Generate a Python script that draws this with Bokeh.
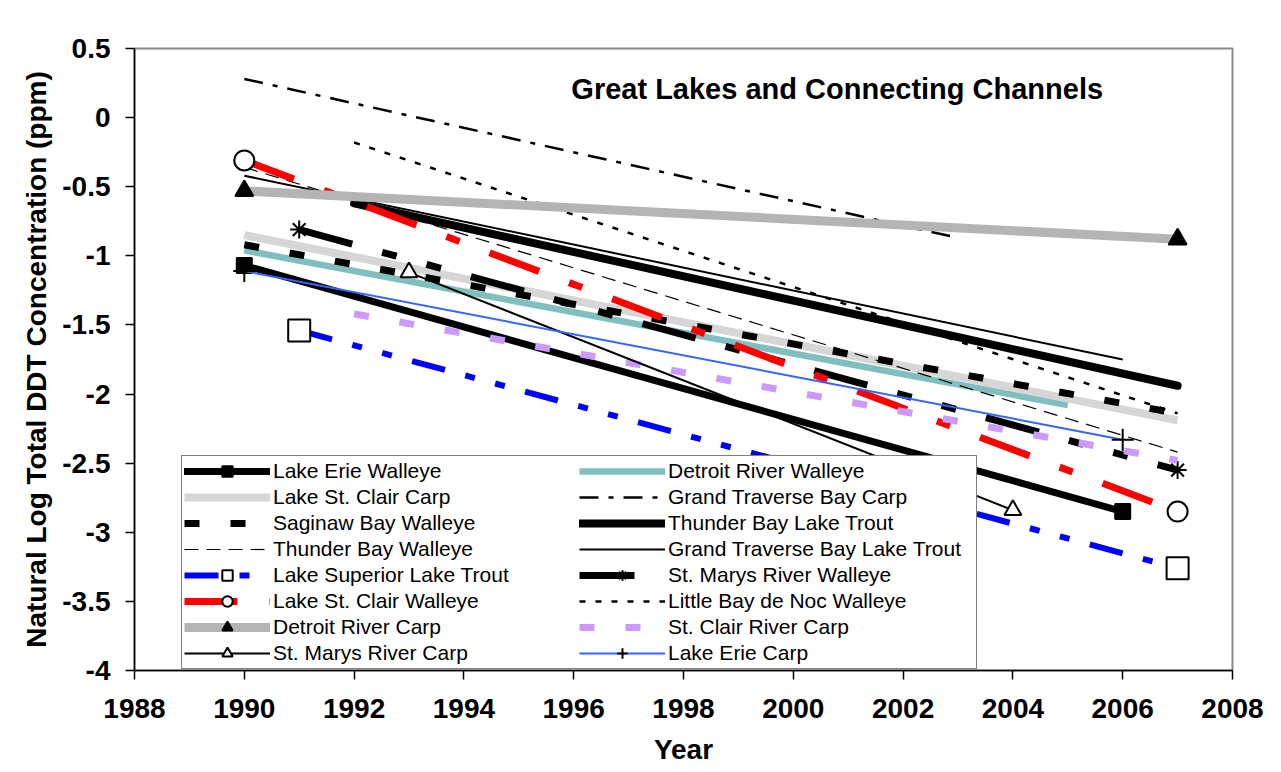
from bokeh.plotting import figure
from bokeh.models import (Legend, LegendItem, FixedTicker, CustomJSTickFormatter,
                          Range1d, Label)
from bokeh.embed import file_html
from bokeh.resources import INLINE

# ---------------- data ----------------
series = [
    "Lake Erie Walleye", "Detroit River Walleye", "Lake St. Clair Carp",
    "Grand Traverse Bay Carp", "Saginaw Bay Walleye", "Thunder Bay Lake Trout",
    "Thunder Bay Walleye", "Grand Traverse Bay Lake Trout", "Lake Superior Lake Trout",
    "St. Marys River Walleye", "Lake St. Clair Walleye", "Little Bay de Noc Walleye",
    "Detroit River Carp", "St. Clair River Carp", "St. Marys River Carp", "Lake Erie Carp",
]
start_year = [1990, 1990, 1990, 1990, 1990, 1992, 1990, 1990, 1991, 1991, 1990, 1992, 1990, 1992, 1993, 1990]
end_year   = [2006, 2005, 2007, 2003, 2007, 2007, 2007, 2006, 2007, 2007, 2007, 2007, 2007, 2007, 2004, 2006]
start_val  = [-1.07, -0.96, -0.85, 0.28, -0.92, -0.62, -0.36, -0.42, -1.54, -0.81, -0.31, -0.18, -0.53, -1.42, -1.12, -1.11]
end_val    = [-2.85, -2.08, -2.19, -0.87, -2.14, -1.94, -2.42, -1.75, -3.26, -2.55, -2.85, -2.14, -0.88, -2.48, -2.84, -2.33]

x_ticks = list(range(1988, 2009, 2))
y_ticks = [0.5, 0, -0.5, -1, -1.5, -2, -2.5, -3, -3.5, -4]
title_text = "Great Lakes and Connecting Channels"

# ---------------- styles ----------------
styles = {
    "Lake Erie Walleye": dict(color="black", width=7, dash="solid", cap="round",
                              marker="square", msize=15, mfill="black"),
    "Detroit River Walleye": dict(color="#7fbfbf", width=6.5, dash="solid", cap="butt"),
    "Lake St. Clair Carp": dict(color="#d6d6d6", width=8, dash="solid", cap="butt"),
    "Grand Traverse Bay Carp": dict(color="black", width=2.5, dash="19 10 5 10", cap="butt"),
    "Saginaw Bay Walleye": dict(color="black", width=7, dash="15 31", cap="butt"),
    "Thunder Bay Lake Trout": dict(color="black", width=8, dash="solid", cap="round"),
    "Thunder Bay Walleye": dict(color="black", width=1.2, dash="14 8", cap="butt"),
    "Grand Traverse Bay Lake Trout": dict(color="black", width=2, dash="solid", cap="butt"),
    "Lake Superior Lake Trout": dict(color="#0000ff", width=6, dash="34 21 10 21 10 21", cap="butt",
                                     marker="square", msize=22, mfill="white"),
    "St. Marys River Walleye": dict(color="black", width=7, dash="55 31 15 31 15 31", cap="butt",
                                    marker="asterisk", msize=18, mfill="black"),
    "Lake St. Clair Walleye": dict(color="#ff0000", width=7, dash="53 32 14 32", cap="butt",
                                   marker="circle", msize=20, mfill="white"),
    "Little Bay de Noc Walleye": dict(color="black", width=2.5, dash="6 10", cap="butt"),
    "Detroit River Carp": dict(color="#b4b4b4", width=9, dash="solid", cap="butt",
                               marker="triangle", msize=18, mfill="black"),
    "St. Clair River Carp": dict(color="#cc99ff", width=7, dash="15 31", cap="butt"),
    "St. Marys River Carp": dict(color="black", width=2, dash="solid", cap="butt",
                                 marker="triangle", msize=17, mfill="white"),
    "Lake Erie Carp": dict(color="#3366ff", width=2, dash="solid", cap="butt",
                           marker="cross", msize=22, mfill="black"),
}

FONT = "Liberation Sans"

p = figure(width=1273, height=768, output_backend="svg", toolbar_location=None,
           x_range=Range1d(1988, 2008), y_range=Range1d(-4, 0.5),
           min_border_left=134, min_border_right=41, min_border_top=48, min_border_bottom=98)
p.xgrid.visible = False
p.ygrid.visible = False
p.outline_line_color = "#888888"
p.outline_line_width = 2
p.background_fill_color = "white"
p.border_fill_color = "white"

items = {}
for i, name in enumerate(series):
    st = styles[name]
    xs = [start_year[i], end_year[i]]
    ys = [start_val[i], end_val[i]]
    r = p.line(xs, ys, line_color=st["color"], line_width=st["width"],
               line_dash=st["dash"], line_cap=st["cap"])
    rs = [r]
    if "marker" in st:
        m = p.scatter(xs, ys, marker=st["marker"], size=st["msize"],
                      fill_color=st["mfill"], line_color="black", line_width=2)
        rs.append(m)
    items[name] = LegendItem(label=name, renderers=rs)

col1 = ["Lake Erie Walleye", "Lake St. Clair Carp", "Saginaw Bay Walleye", "Thunder Bay Walleye",
        "Lake Superior Lake Trout", "Lake St. Clair Walleye", "Detroit River Carp", "St. Marys River Carp"]
col2 = ["Detroit River Walleye", "Grand Traverse Bay Carp", "Thunder Bay Lake Trout",
        "Grand Traverse Bay Lake Trout", "St. Marys River Walleye", "Little Bay de Noc Walleye",
        "St. Clair River Carp", "Lake Erie Carp"]

legend = Legend(items=[items[n] for n in col1 + col2], location=(47, 1),
                orientation="vertical", nrows=8,
                label_text_font=FONT, label_text_font_size="21px", label_text_color="black",
                glyph_width=86, glyph_height=26, label_height=22, label_width=306,
                label_standoff=3, spacing=0, padding=2, margin=0,
                border_line_color="black", border_line_width=1,
                background_fill_color="white", background_fill_alpha=1.0)
p.add_layout(legend, "center")

p.add_layout(Label(x=2000.8, y=0.21, text=title_text, text_align="center",
                   text_baseline="middle", text_font=FONT, text_font_size="29px",
                   text_font_style="bold", text_color="black"))

for ax in (p.xaxis[0], p.yaxis[0]):
    ax.axis_line_color = "black"
    ax.axis_line_width = 1.5
    ax.major_tick_line_color = "black"
    ax.major_tick_line_width = 1.5
    ax.major_tick_in = 0
    ax.major_tick_out = 9
    ax.minor_tick_line_color = None
    ax.major_label_text_font = FONT
    ax.major_label_text_font_size = "28px"
    ax.major_label_text_font_style = "bold"
    ax.major_label_text_color = "black"
    ax.axis_label_text_font = FONT
    ax.axis_label_text_font_size = "28px"
    ax.axis_label_text_font_style = "bold"
    ax.axis_label_text_color = "black"

p.xaxis.ticker = FixedTicker(ticks=x_ticks)
p.yaxis.ticker = FixedTicker(ticks=y_ticks)
p.yaxis.formatter = CustomJSTickFormatter(code="return tick.toString();")
p.xaxis.axis_label = "Year"
p.yaxis.axis_label = "Natural Log Total DDT Concentration (ppm)"
p.xaxis.major_label_standoff = 19
p.yaxis.major_label_standoff = 15
p.xaxis.axis_label_standoff = 13
p.yaxis.axis_label_standoff = 7

open("out.html", "w").write(file_html(p, INLINE))
